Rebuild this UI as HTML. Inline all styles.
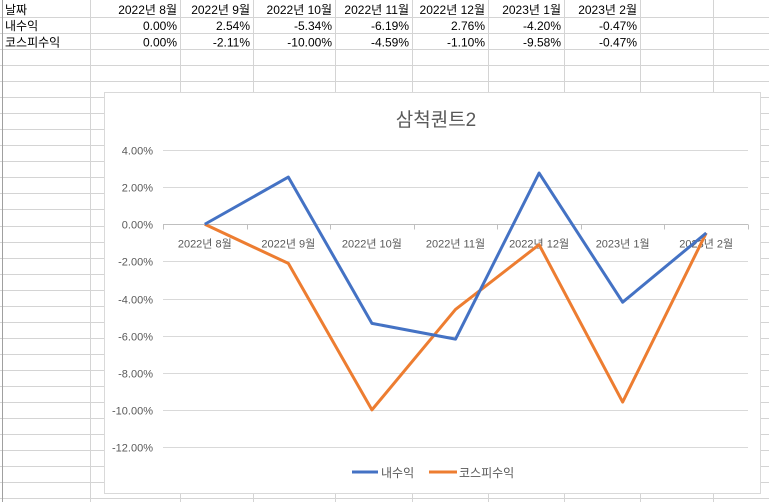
<!DOCTYPE html>
<html><head><meta charset="utf-8"><style>
html,body{margin:0;padding:0;background:#fff;}
svg{display:block;font-family:"Liberation Sans","Noto Sans CJK KR",sans-serif;}
</style></head><body>
<svg id="s" width="769" height="502" xmlns="http://www.w3.org/2000/svg">
<g id="grid"></g>
<g id="cells"></g>
<g id="chart">
<rect x="104.5" y="92.5" width="656" height="401" fill="#fff" stroke="#d9d9d9"/>
<text x="436" y="126" font-size="19" fill="#595959" text-anchor="middle">삼척퀀트2</text>
<g id="plot"></g>
<g>
<line x1="352" y1="472" x2="378" y2="472" stroke="#4472c4" stroke-width="3"/>
<text x="381" y="477" font-size="12" fill="#595959">내수익</text>
<line x1="429" y1="472" x2="457" y2="472" stroke="#ed7d31" stroke-width="3"/>
<text x="459" y="477" font-size="12" fill="#595959">코스피수익</text>
</g>
</g>
</svg>
<script>
const categories=["2022년 8월","2022년 9월","2022년 10월","2022년 11월","2022년 12월","2023년 1월","2023년 2월"];
const myReturn=[0.00,2.54,-5.34,-6.19,2.76,-4.20,-0.47];
const kospiReturn=[0.00,-2.11,-10.00,-4.59,-1.10,-9.58,-0.47];
const yTicks=[4,2,0,-2,-4,-6,-8,-10,-12];
const NS="http://www.w3.org/2000/svg";
function mk(p,t,a,txt){const e=document.createElementNS(NS,t);for(const k in a)e.setAttribute(k,a[k]);if(txt!==undefined)e.textContent=txt;p.appendChild(e);return e;}
// sheet grid
const grid=document.getElementById('grid');
const colX=[2,90,180,253,335,412,488,564,640,713];
for(let i=0;i<31;i++){const y=Math.round(17+i*16.04)+0.5;const l=mk(grid,'line',{x1:0,y1:y,x2:769,y2:y,stroke:'#d4d4d4'});

}
colX.forEach((x,i)=>{const l=mk(grid,'line',{x1:x+0.5,y1:0,x2:x+0.5,y2:502,stroke:i==0?'#a0a0a0':'#d4d4d4'});

});
const cells=document.getElementById('cells');
const fmt=v=>v.toFixed(2)+'%';
const rows=[["날짜",categories],["내수익",myReturn.map(fmt)],["코스피수익",kospiReturn.map(fmt)]];
rows.forEach((r,ri)=>{const y=14+ri*16.2;
const h=mk(cells,'text',{x:5,y:y,'font-size':12,fill:'#000'},r[0]);


r[1].forEach((v,ci)=>{const t=mk(cells,'text',{x:colX[ci+2]-3,y:y,'font-size':12,fill:'#000','text-anchor':'end'},v);

});});
// chart
const plot=document.getElementById('plot');
const x0=163,x1=748,yTop=150,yBot=447,vMax=4,vMin=-12;
const yS=v=>yTop+(vMax-v)/(vMax-vMin)*(yBot-yTop);
const bw=(x1-x0)/categories.length;
const xS=i=>x0+bw*(i+0.5);
yTicks.forEach(v=>{const y=Math.round(yS(v))+0.5;
const g=mk(plot,'line',{x1:x0,y1:y,x2:x1,y2:y,stroke:v===0?'#bfbfbf':'#d9d9d9'});


const t=mk(plot,'text',{x:153,y:y+4,'font-size':11,fill:'#595959','text-anchor':'end'},v.toFixed(2)+'%');

});
const y0=Math.round(yS(0))+0.5;
for(let i=0;i<=categories.length;i++){const x=Math.round(x0+bw*i)+0.5;
const tk=mk(plot,'line',{x1:x,y1:y0,x2:x,y2:y0+5,stroke:'#bfbfbf'});

}
categories.forEach((c,i)=>{const t=mk(plot,'text',{x:xS(i),y:y0+23,'font-size':11,fill:'#595959','text-anchor':'middle'},c);

});
function series(vals,color,name){const p=mk(plot,'polyline',{points:vals.map((v,i)=>xS(i)+','+yS(v)).join(' '),fill:'none',stroke:color,'stroke-width':3,'stroke-linejoin':'round'});

}
series(kospiReturn,'#ed7d31','series-kospi-return');
series(myReturn,'#4472c4','series-my-return');
</script>
</body></html>
